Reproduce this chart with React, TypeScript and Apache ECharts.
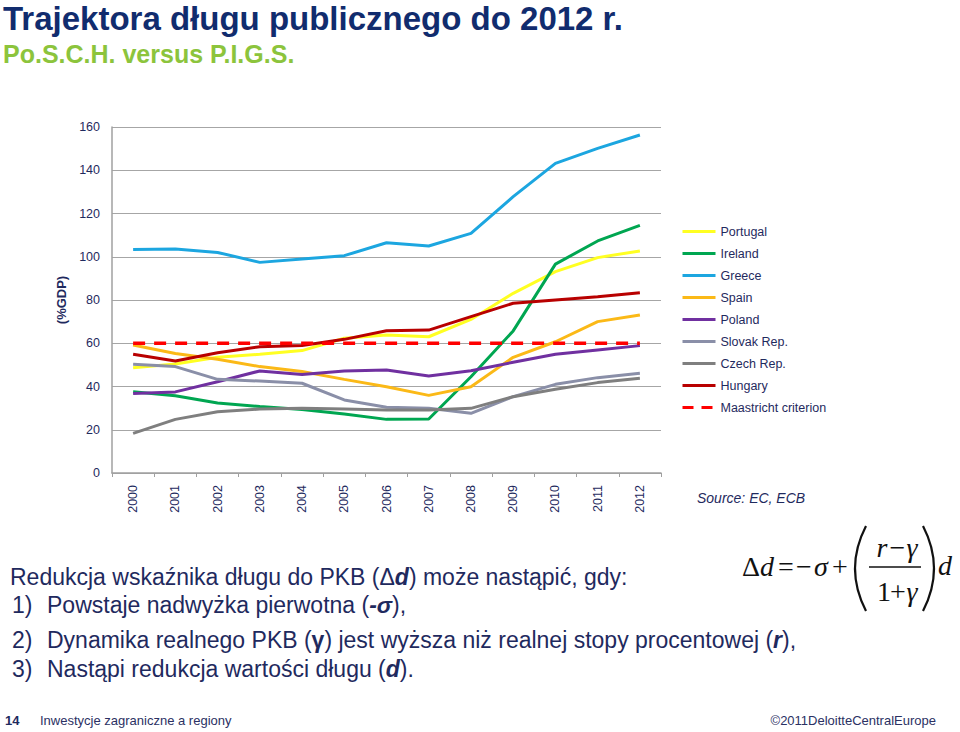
import React, { useEffect, useRef } from 'react';
import * as echarts from 'echarts';

const years = ['2000', '2001', '2002', '2003', '2004', '2005', '2006', '2007', '2008', '2009', '2010', '2011', '2012'];
const portugal = [48.7, 50.4, 53.5, 54.9, 56.6, 62.3, 63.8, 63.0, 71.0, 83.1, 93.1, 99.6, 102.7];
const ireland = [37.6, 35.7, 32.4, 30.7, 29.4, 27.3, 24.8, 25.0, 44.5, 65.7, 96.6, 107.3, 114.5];
const greece = [103.4, 103.6, 102.0, 97.4, 99.0, 100.5, 106.5, 105.0, 110.8, 127.8, 143.2, 150.1, 156.3];
const spain = [59.2, 55.3, 52.6, 49.2, 46.9, 43.3, 39.9, 35.9, 39.9, 53.5, 60.7, 70.0, 73.1];
const poland = [36.8, 37.5, 42.2, 47.2, 45.6, 47.2, 47.6, 44.9, 47.3, 51.2, 54.9, 56.9, 58.9];
const slovak = [50.3, 49.2, 43.3, 42.5, 41.5, 33.8, 30.4, 29.9, 27.6, 35.3, 41.0, 44.1, 46.1];
const czech = [18.3, 24.8, 28.3, 29.6, 29.9, 29.6, 29.1, 29.1, 29.9, 35.3, 38.7, 41.8, 43.8];
const hungary = [54.9, 51.8, 55.6, 58.4, 59.0, 61.8, 65.8, 66.1, 72.3, 78.5, 80.0, 81.5, 83.4];
const maastricht = [60, 60, 60, 60, 60, 60, 60, 60, 60, 60, 60, 60, 60];

const seriesNames = ['Portugal', 'Ireland', 'Greece', 'Spain', 'Poland', 'Slovak Rep.', 'Czech Rep.', 'Hungary', 'Maastricht criterion'];
const seriesData = [portugal, ireland, greece, spain, poland, slovak, czech, hungary, maastricht];
const seriesColors = ['#FFFF22', '#00A651', '#1CA6E0', '#FBB917', '#7030A0', '#8A8FA8', '#7F7F7F', '#B80000', '#FF0000'];

const titleText = 'Trajektora długu publicznego do 2012 r.';
const subtitleText = 'Po.S.C.H. versus P.I.G.S.';
const yAxisName = '(%GDP)';
const sourceText = 'Source: EC, ECB';

const NAVY = '#1F2A5E';
const SANS = '"Liberation Sans", Arial, sans-serif';
const SERIF = '"Liberation Serif", "Times New Roman", serif';

function txt(x: number, y: number, text: string, o: any = {}) {
  const align = o.align || 'left';
  const va = o.verticalAlign || 'middle';
  return {
    type: 'text',
    x,
    y,
    silent: true,
    style: {
      text,
      fill: o.fill || NAVY,
      fontSize: o.fontSize || 13,
      fontFamily: o.fontFamily || SANS,
      fontWeight: o.fontWeight || 'normal',
      fontStyle: o.fontStyle || 'normal',
      align,
      verticalAlign: va,
      textAlign: align,
      textVerticalAlign: va,
      rich: o.rich,
    },
  };
}

export default function App() {
  const ref = useRef<HTMLDivElement>(null);
  useEffect(() => {
    const chart = echarts.init(ref.current!, null, { renderer: 'svg' });
    const bodyRich = {
      bi: { fontStyle: 'italic', fontWeight: 'bold', fontSize: 23, fontFamily: SANS, fill: NAVY },
      b: { fontWeight: 'bold', fontSize: 23, fontFamily: SANS, fill: NAVY },
    };
    const body = { fontSize: 23, rich: bodyRich };
    const fx = { fontFamily: SERIF, fontSize: 28, fill: '#111' };
    const fxi = { ...fx, fontStyle: 'italic' };

    const graphic: any[] = [
      txt(3, 18, titleText, { fontSize: 33, fontWeight: 'bold', fill: '#112C6E' }),
      txt(3, 54, subtitleText, { fontSize: 25, fontWeight: 'bold', fill: '#8CC43C' }),
      txt(697, 497.5, sourceText, { fontSize: 14, fontStyle: 'italic' }),
      txt(10, 577, 'Redukcja wskaźnika długu do PKB (Δ{bi|d}) może nastąpić, gdy:', body),
      txt(12, 605, '1)', body),
      txt(47, 605, 'Powstaje nadwyżka pierwotna ({bi|-σ}),', body),
      txt(12, 640, '2)', body),
      txt(47, 640, 'Dynamika realnego PKB ({b|γ}) jest wyższa niż realnej stopy procentowej ({bi|r}),', body),
      txt(12, 669, '3)', body),
      txt(47, 669, 'Nastąpi redukcja wartości długu ({bi|d}).', body),
      // formula
      txt(751, 566, 'Δ', { ...fx, align: 'center' }),
      txt(767, 566, 'd', { ...fxi, align: 'center' }),
      txt(786, 566, '=', { ...fx, align: 'center' }),
      txt(804, 566, '−', { ...fx, align: 'center' }),
      txt(821, 566, 'σ', { ...fxi, align: 'center' }),
      txt(840, 566, '+', { ...fx, align: 'center' }),
      {
        type: 'bezierCurve',
        silent: true,
        shape: { x1: 866, y1: 526, cpx1: 844, cpy1: 568.5, x2: 866, y2: 611 },
        style: { stroke: '#111', lineWidth: 2.2, fill: null },
      },
      {
        type: 'bezierCurve',
        silent: true,
        shape: { x1: 923, y1: 526, cpx1: 945, cpy1: 568.5, x2: 923, y2: 611 },
        style: { stroke: '#111', lineWidth: 2.2, fill: null },
      },
      {
        type: 'line',
        silent: true,
        shape: { x1: 869, y1: 567, x2: 921, y2: 567 },
        style: { stroke: '#111', lineWidth: 1.5 },
      },
      txt(882, 547, 'r', { ...fxi, align: 'center' }),
      txt(897.5, 547, '−', { ...fx, align: 'center' }),
      txt(912, 547, 'γ', { ...fxi, align: 'center' }),
      txt(884, 591, '1', { ...fx, align: 'center' }),
      txt(898, 591, '+', { ...fx, align: 'center' }),
      txt(912, 591, 'γ', { ...fxi, align: 'center' }),
      txt(945, 565, 'd', { ...fxi, align: 'center' }),
      // footer
      txt(5, 720, '14', { fontSize: 13, fontWeight: 'bold' }),
      txt(40, 720, 'Inwestycje zagraniczne a regiony', { fontSize: 13, fill: '#2B3163' }),
      txt(936, 720, '©2011DeloitteCentralEurope', { fontSize: 13, fill: '#2B3163', align: 'right' }),
    ];

    const lastIdx = seriesNames.length - 1;
    const series = seriesNames.map((name, i) => ({
      name,
      type: 'line',
      data: seriesData[i],
      symbol: 'none',
      showSymbol: false,
      color: seriesColors[i],
      z: i === lastIdx ? 10 : 2 + i * 0.01,
      lineStyle: {
        color: seriesColors[i],
        width: i === lastIdx ? 3.5 : 3,
        type: i === lastIdx ? [12, 9] : 'solid',
      },
      emphasis: { disabled: true },
    }));

    const legendData = seriesNames.map((name, i) =>
      i === lastIdx
        ? { name, lineStyle: { type: [11, 8], width: 3, color: seriesColors[i] } }
        : { name }
    );

    chart.setOption({
      animation: false,
      backgroundColor: '#ffffff',
      textStyle: { fontFamily: SANS },
      grid: { left: 112, right: 299, top: 127, bottom: 259, containLabel: false },
      legend: {
        orient: 'vertical',
        left: 681,
        top: 225,
        padding: 0,
        itemWidth: 33,
        itemHeight: 14,
        itemGap: 9,
        selectedMode: false,
        data: legendData,
        itemStyle: { opacity: 0 },
        lineStyle: { width: 3 },
        textStyle: { color: NAVY, fontSize: 12.5, fontFamily: SANS },
      },
      xAxis: {
        type: 'category',
        data: years,
        boundaryGap: true,
        axisLine: { show: true, lineStyle: { color: '#A0A0A0', width: 1.5 } },
        axisTick: { show: true, length: 4, lineStyle: { color: '#A0A0A0', width: 1 } },
        axisLabel: { rotate: 90, margin: 12, color: NAVY, fontSize: 12.5, fontFamily: SANS },
        splitLine: { show: false },
      },
      yAxis: {
        type: 'value',
        min: 0,
        max: 160,
        interval: 20,
        name: yAxisName,
        nameLocation: 'middle',
        nameGap: 43,
        nameTextStyle: { color: NAVY, fontWeight: 'bold', fontSize: 13, fontFamily: SANS },
        axisLine: { show: true, lineStyle: { color: '#A0A0A0', width: 1.5 } },
        axisTick: { show: false },
        axisLabel: { margin: 12, color: NAVY, fontSize: 12.5, fontFamily: SANS },
        splitLine: { show: true, lineStyle: { color: '#A6A6A6', width: 1 } },
      },
      series,
      graphic,
    });
    return () => chart.dispose();
  }, []);
  return (
    <div
      ref={ref}
      style={{ position: 'absolute', left: 0, top: 0, width: 960, height: 732, background: '#fff' }}
    />
  );
}
